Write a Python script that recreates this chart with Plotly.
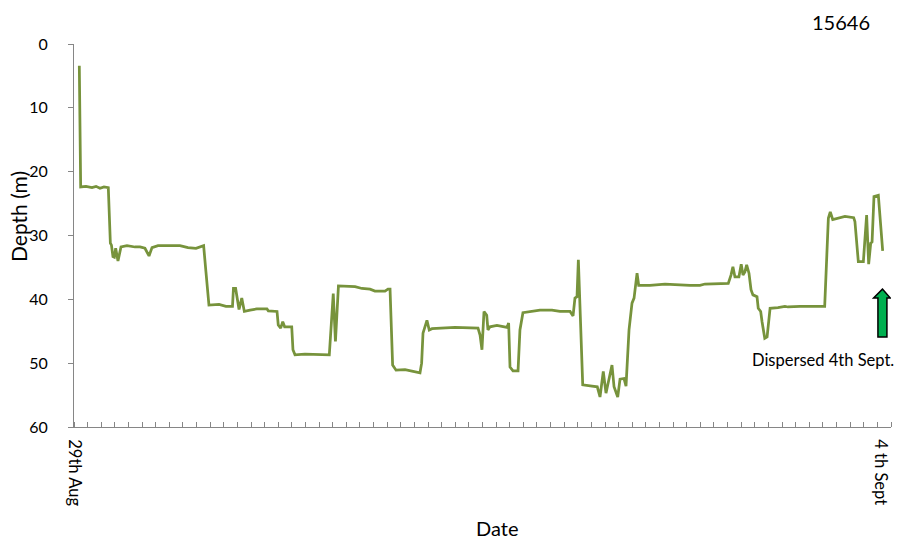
import plotly.graph_objects as go

# time axis in tick intervals (60 intervals between 29th Aug and 4th Sept)
time_units = [0.39, 0.49, 0.88, 1.32, 1.62, 1.91, 2.20, 2.52, 2.67, 2.75,
              2.86, 2.96, 3.06, 3.23, 3.45, 3.89, 4.48, 4.85, 5.21, 5.51,
              5.73, 6.17, 7.78, 8.37, 8.96, 9.52, 9.69, 9.91, 10.65, 11.16,
              11.64, 11.71, 11.87, 12.12, 12.32, 12.51, 12.93, 13.42, 14.17, 14.27,
              14.91, 15.00, 15.18, 15.33, 15.47, 15.99, 16.08, 16.23, 16.96, 17.70,
              18.75, 19.04, 19.20, 19.42, 20.64, 21.15, 21.74, 22.10, 22.84, 23.06,
              23.21, 23.40, 23.65, 24.31, 24.82, 25.41, 25.53, 25.63, 25.92, 26.09,
              26.29, 27.25, 27.98, 29.67, 29.82, 29.96, 30.11, 30.31, 30.40, 30.55,
              31.06, 31.80, 31.92, 32.02, 32.24, 32.61, 32.75, 32.97, 33.49, 34.22,
              35.10, 35.69, 36.43, 36.65, 36.79, 36.94, 37.04, 37.36, 38.04, 38.43,
              38.63, 38.87, 39.07, 39.29, 39.51, 39.66, 39.93, 40.10, 40.39, 40.54,
              40.76, 40.98, 41.13, 41.35, 41.47, 42.30, 43.40, 45.24, 45.97, 46.34,
              48.05, 48.25, 48.39, 48.54, 48.83, 49.00, 49.13, 49.27, 49.40, 49.57,
              49.72, 49.86, 50.16, 50.25, 50.43, 50.53, 50.73, 50.90, 51.12, 51.70,
              52.21, 52.44, 53.32, 55.13, 55.30, 55.40, 55.54, 55.72, 56.62, 57.26,
              57.35, 57.60, 57.97, 58.21, 58.36, 58.51, 58.61, 58.75, 59.07, 59.39]

depth_m = [3.4, 22.4, 22.3, 22.5, 22.3, 22.6, 22.4, 22.5, 31.2, 31.5,
           33.3, 33.4, 32.0, 34.0, 31.8, 31.6, 31.8, 31.8, 32.0, 33.2,
           31.9, 31.6, 31.6, 31.9, 32.0, 31.6, 35.7, 40.9, 40.8, 41.1,
           41.1, 38.3, 38.3, 41.6, 39.8, 41.9, 41.7, 41.5, 41.5, 41.8,
           41.9, 44.0, 44.5, 43.5, 44.3, 44.3, 47.9, 48.7, 48.6, 48.6,
           48.7, 39.1, 46.6, 37.9, 38.0, 38.3, 38.4, 38.7, 38.7, 38.4,
           38.4, 50.3, 51.1, 51.0, 51.2, 51.5, 50.0, 45.3, 43.3, 44.8,
           44.6, 44.5, 44.4, 44.5, 45.6, 47.9, 41.9, 42.5, 44.8, 44.3,
           44.1, 44.4, 43.7, 50.6, 51.2, 51.2, 44.8, 42.1, 41.9, 41.7,
           41.7, 41.9, 41.9, 42.6, 39.8, 39.6, 33.8, 53.4, 53.6, 53.7,
           55.3, 51.3, 54.7, 52.6, 50.3, 53.7, 55.3, 52.5, 52.4, 53.6,
           44.8, 40.6, 39.8, 35.9, 37.8, 37.8, 37.6, 37.8, 37.8, 37.6,
           37.5, 36.2, 34.9, 36.5, 36.5, 34.5, 36.2, 35.7, 34.6, 35.9,
           38.5, 39.3, 39.6, 41.4, 41.9, 43.5, 46.1, 45.9, 41.4, 41.3,
           41.1, 41.2, 41.1, 41.1, 31.8, 27.3, 26.3, 27.5, 27.0, 27.2,
           27.8, 34.1, 34.1, 26.8, 34.5, 31.2, 31.0, 23.9, 23.7, 32.4]

date_tick_pos = [0.0, 59.2]
date_tick_text = ["29th Aug", "4 th Sept"]
depth_ticks = [0, 10, 20, 30, 40, 50, 60]

FONT = "Lato"
AXIS_GREY = "#868686"

# plot-area geometry (pixels) used to place paper-referenced texts
L, R, T, B = 74, 891, 44, 427
W, H = R - L, B - T


def px_x(p):
    return (p - L) / W


def px_y(p):
    return (B - p) / H


fig = go.Figure()
fig.add_trace(go.Scatter(
    x=time_units, y=depth_m, mode="lines",
    line=dict(color="#77933C", width=2.75),
    hoverinfo="skip", showlegend=False,
))

# green arrow with black outline
fig.add_shape(
    type="path",
    path="M 59.37 38.4 L 59.95 39.8 L 59.7 39.8 L 59.7 45.9 L 59.04 45.9 L 59.04 39.8 L 58.72 39.8 Z",
    xref="x", yref="y",
    fillcolor="#00B050", line=dict(color="black", width=1.5),
)

fig.add_annotation(x=px_x(823), y=px_y(360), xref="paper", yref="paper",
                   xanchor="center", yanchor="middle",
                   text="Dispersed 4th Sept.", showarrow=False,
                   font=dict(family=FONT, size=16.5, color="black"))

fig.add_annotation(x=px_x(18), y=px_y(217), xref="paper", yref="paper",
                   xanchor="center", yanchor="middle",
                   text="Depth (m)", textangle=-90, showarrow=False,
                   font=dict(family=FONT, size=21, color="black"))
fig.add_annotation(x=px_x(497), y=px_y(528), xref="paper", yref="paper",
                   xanchor="center", yanchor="middle",
                   text="Date", showarrow=False,
                   font=dict(family=FONT, size=20, color="black"))
fig.add_annotation(x=px_x(841), y=px_y(22), xref="paper", yref="paper",
                   xanchor="center", yanchor="middle",
                   text="15646", showarrow=False,
                   font=dict(family=FONT, size=20, color="black"))

fig.update_layout(
    width=899, height=542,
    margin=dict(l=L, r=899 - R, t=T, b=542 - B, autoexpand=False),
    paper_bgcolor="white", plot_bgcolor="white",
    font=dict(family=FONT, color="black"),
)

fig.update_xaxes(
    range=[0, 60], showgrid=False, zeroline=False, automargin=False,
    showline=True, linecolor=AXIS_GREY, linewidth=1,
    tickmode="array", tickvals=date_tick_pos, ticktext=date_tick_text,
    tickangle=90, ticks="", ticklabelstandoff=8,
    tickfont=dict(family=FONT, size=16.5, color="black"),
    minor=dict(tickmode="linear", tick0=0, dtick=1, ticks="inside", ticklen=5,
               tickcolor=AXIS_GREY, tickwidth=1, showgrid=False),
)
fig.update_yaxes(
    range=[60, 0], showgrid=False, zeroline=False, automargin=False,
    showline=True, linecolor=AXIS_GREY, linewidth=1,
    tickmode="array", tickvals=depth_ticks,
    ticks="outside", ticklen=5, tickcolor=AXIS_GREY,
    ticklabelstandoff=17,
    tickfont=dict(family=FONT, size=16, color="black"),
)

fig.write_html("out.html", config={"displayModeBar": False},
               post_script="document.body.style.margin='0';")
